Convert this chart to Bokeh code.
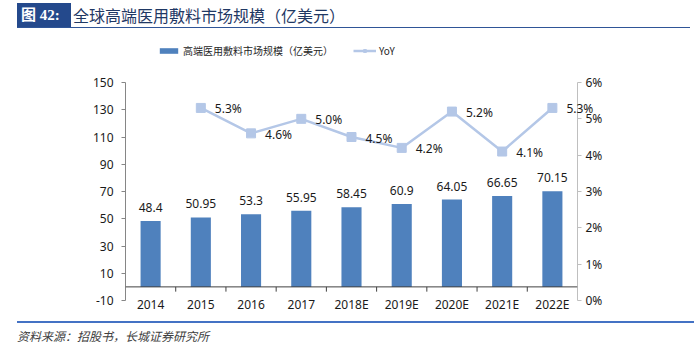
from bokeh.plotting import figure
from bokeh.models import (Range1d, LinearAxis, FixedTicker, PrintfTickFormatter, Span,
                          Legend, LegendItem, ColumnDataSource, Div)
from bokeh.layouts import column
from bokeh.embed import file_html
from bokeh.resources import INLINE

categories = ["2014", "2015", "2016", "2017", "2018E", "2019E", "2020E", "2021E", "2022E"]
market = [48.4, 50.95, 53.3, 55.95, 58.45, 60.9, 64.05, 66.65, 70.15]
yoy_categories = categories[1:]
yoy = [5.3, 4.6, 5.0, 4.5, 4.2, 5.2, 4.1, 5.3]
left_ticks = [-10, 10, 30, 50, 70, 90, 110, 130, 150]
right_ticks = [0, 1, 2, 3, 4, 5, 6]

title_tag = "图 42:"
title_text = "全球高端医用敷料市场规模（亿美元）"
bar_name = "高端医用敷料市场规模（亿美元）"
line_name = "YoY"
source_text = "资料来源：招股书，长城证券研究所"

FONT = "Noto Sans"
CJK = "Noto Sans CJK SC"
BAR = "#4F81BD"
LINE = "#B4C7E7"
TXT = "#1a1a1a"

W = 694
TITLE_H = 30
FIG_H = 291
FOOT_H = 351 - TITLE_H - FIG_H
FL, FR = 125, 577            # frame left/right (page px)
AXIS_TOP, AXIS_BOT = 82, 300  # where the value axes start/end (page px)
FRAME_TOP = 40                # frame extends above axes so the legend sits inside it
extra = (AXIS_TOP - FRAME_TOP) / (AXIS_BOT - AXIS_TOP)

xs = list(range(len(categories)))
yoy_xs = [categories.index(c) for c in yoy_categories]

lo, hi = left_ticks[0], left_ticks[-1]
rlo, rhi = right_ticks[0], right_ticks[-1]

p = figure(width=W, height=FIG_H, output_backend="svg", toolbar_location=None,
           x_range=Range1d(-0.5, len(categories) - 0.5),
           y_range=Range1d(lo, hi + extra * (hi - lo)),
           min_border_left=FL, min_border_right=W - FR, min_border_top=FRAME_TOP - TITLE_H,
           min_border_bottom=TITLE_H + FIG_H - AXIS_BOT, margin=0)
p.outline_line_color = None
p.xgrid.grid_line_color = None
p.ygrid.grid_line_color = None
p.background_fill_color = "white"
p.border_fill_color = "white"
p.extra_y_ranges = {"yoy": Range1d(rlo, rhi + extra * (rhi - rlo))}

# bars
bar_src = ColumnDataSource(dict(x=xs, y=market, lbl=[str(v) for v in market]))
bars = p.vbar(x="x", top="y", width=0.4, bottom=0, source=bar_src, fill_color=BAR, line_color=None)
p.text(x="x", y="y", text="lbl", source=bar_src, text_align="center", text_baseline="bottom",
       y_offset=-9, text_font_size="12px", text_color=TXT, text_font={"value": FONT})

# YoY line
yoy_src = ColumnDataSource(dict(x=yoy_xs, y=yoy, lbl=[f"{v:.1f}%" for v in yoy]))
ln = p.line(x="x", y="y", source=yoy_src, y_range_name="yoy", line_color=LINE, line_width=2.5)
mk = p.scatter(x="x", y="y", source=yoy_src, y_range_name="yoy", marker="square", size=9,
               fill_color=LINE, line_color=LINE)
p.text(x="x", y="y", text="lbl", source=yoy_src, y_range_name="yoy", text_align="left",
       text_baseline="middle", x_offset=14, y_offset=1, text_font_size="12px", text_color=TXT,
       text_font={"value": FONT}, level="overlay")

# x axis line at zero + boundary ticks
p.add_layout(Span(location=0, dimension="width", line_color="#404040", line_width=1))
bounds = [i - 0.5 for i in range(len(categories) + 1)]
p.segment(x0=bounds, x1=bounds, y0=[0] * len(bounds), y1=[-3.5] * len(bounds),
          line_color="#404040", line_width=1)

# bottom axis (labels only)
xa = p.xaxis[0]
xa.ticker = FixedTicker(ticks=xs)
xa.major_label_overrides = {i: c for i, c in zip(xs, categories)}
xa.axis_line_color = None
xa.major_tick_line_color = None
xa.minor_tick_line_color = None
xa.major_label_standoff = -11
xa.major_label_text_font = FONT
xa.major_label_text_font_size = "12px"
xa.major_label_text_color = TXT

# left axis
ya = p.yaxis[0]
ya.ticker = FixedTicker(ticks=left_ticks)
ya.major_label_overrides = {t: str(t) for t in left_ticks}
ya.bounds = (lo, hi)
ya.axis_line_color = "#868686"
ya.major_tick_line_color = "#868686"
ya.major_tick_in = 0
ya.major_tick_out = 4
ya.minor_tick_line_color = None
ya.major_label_standoff = 8
ya.major_label_text_font = FONT
ya.major_label_text_font_size = "12px"
ya.major_label_text_color = TXT

# right axis
ra = LinearAxis(y_range_name="yoy", ticker=FixedTicker(ticks=right_ticks),
                formatter=PrintfTickFormatter(format="%d%%"), bounds=(rlo, rhi))
ra.axis_line_color = "#BFBFBF"
ra.major_tick_line_color = "#BFBFBF"
ra.major_tick_in = 0
ra.major_tick_out = 4
ra.minor_tick_line_color = None
ra.major_label_standoff = 4
ra.major_label_text_font = FONT
ra.major_label_text_font_size = "12px"
ra.major_label_text_color = TXT
p.add_layout(ra, "right")

# legend (inside the extended frame, above the axes)
legend = Legend(items=[LegendItem(label=bar_name, renderers=[bars]),
                       LegendItem(label=line_name, renderers=[ln, mk])],
                orientation="horizontal", location=(157 - FL, AXIS_BOT - 58),
                glyph_width=23, glyph_height=7, label_height=14, label_standoff=3, spacing=20,
                padding=0, margin=0, border_line_color=None, background_fill_alpha=0,
                label_text_font=CJK, label_text_font_size="10px", label_text_color="#262626")
p.add_layout(legend, "center")

title_div = Div(width=W, height=TITLE_H, margin=0, text=(
    f'<div style="position:relative;width:{W}px;height:{TITLE_H}px;">'
    f'<div style="position:absolute;left:17px;top:3px;width:54px;height:24px;background:#24498C;'
    f'color:#fff;font-family:\'Liberation Serif\',\'Noto Sans CJK SC\';font-weight:bold;font-size:15px;'
    f'line-height:24px;padding-left:4px;box-sizing:border-box;white-space:nowrap;">{title_tag}</div>'
    f'<div style="position:absolute;left:73px;top:3px;height:24px;line-height:24px;font-size:16px;'
    f'font-family:\'Noto Sans CJK SC\';color:#1F3864;white-space:nowrap;">{title_text}</div>'
    f'<div style="position:absolute;left:17px;top:27px;width:673px;height:1px;background:#2F5597;"></div>'
    f'</div>'))

foot_div = Div(width=W, height=FOOT_H, margin=0, text=(
    f'<div style="position:relative;width:{W}px;height:{FOOT_H}px;">'
    f'<div style="position:absolute;left:17px;top:0px;width:677px;height:2px;background:#4472C4;"></div>'
    f'<div style="position:absolute;left:17px;top:7px;line-height:16px;font-size:12px;font-style:italic;'
    f'font-family:\'Noto Sans CJK SC\';color:#404040;white-space:nowrap;">{source_text}</div>'
    f'</div>'))

layout = column(title_div, p, foot_div, spacing=0, margin=0)
open("out.html", "w").write(file_html(layout, INLINE))
